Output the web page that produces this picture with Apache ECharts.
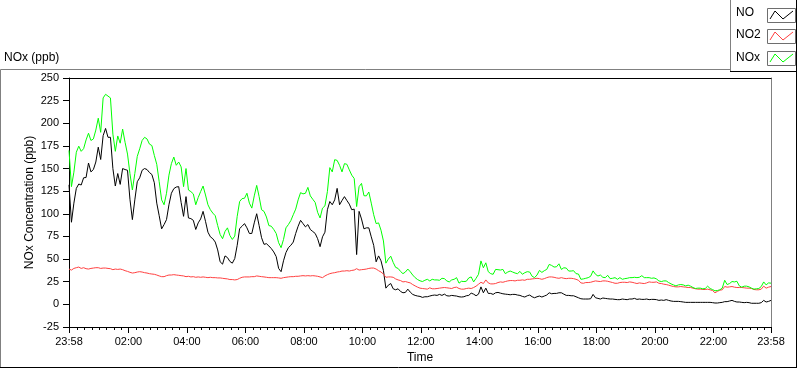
<!DOCTYPE html>
<html><head><meta charset="utf-8">
<script src="https://cdn.jsdelivr.net/npm/echarts@6/dist/echarts.min.js"></script>
<style>html,body{margin:0;padding:0;background:#fff}#c{width:800px;height:369px}</style>
</head><body><div id="c"></div>
<script>
// ---- data ----
const seriesNames = ['NO', 'NO2', 'NOx'];
const seriesColors = ['#000000', '#ff4040', '#00ff00'];
const timeStartMin = -2;   // 23:58 of the previous day (minutes from midnight)
const timeStepMin = 5;     // one sample every 5 minutes

const noValues = [
  132, 90.7, 111.8, 128.1, 132.9, 131.8, 139.8, 140.1, 156.1, 146.3, 148.9, 157.2,
  173.6, 160, 186.3, 194.3, 184.5, 184.5, 150, 130.7, 144.5, 132.5, 150, 148.9,
  148.1, 116.1, 93.6, 115.4, 135.4, 139.8, 148.1, 150, 148.9, 145.6, 143.4, 134.3,
  111.8, 97.9, 83.4, 88.1, 93.6, 110, 122.7, 127.8, 129.6, 130, 112.5, 97.2,
  119, 95.4, 94.7, 92.8, 82.7, 90, 94.3, 102.7, 91.7, 79.7, 74.6, 72.5,
  68.8, 60.1, 47, 44.4, 53.5, 51.7, 47.4, 45.5, 50.6, 65.2, 83.7, 86.3,
  89.2, 84.5, 78.3, 78.3, 90, 100.1, 87, 73.6, 66.3, 67, 64.5, 61.6,
  57.9, 52.8, 39.7, 36.1, 48.1, 57.2, 62.6, 65.2, 68.8, 78.3, 86.3, 92.8,
  89.2, 85.6, 88.1, 82.7, 80.5, 78.3, 72.5, 63.7, 74.6, 79.7, 104.5, 113.6,
  110, 115.4, 128.1, 110, 114.7, 119, 114.7, 110.7, 104.5, 105.2, 55, 102.7,
  94.3, 83.4, 84.5, 84.5, 74.6, 65.2, 47, 53.5, 48.1, 37.2, 17.9, 21.2,
  23, 17.2, 16.1, 17.2, 14.3, 12.8, 13.2, 16.8, 13.5, 11, 9.9, 9.2,
  8.8, 7.7, 8.4, 8.4, 9.2, 9.9, 10.3, 9.9, 11, 9.9, 11.3, 9.5,
  9.2, 9.9, 9.5, 9.2, 8.4, 8.1, 8.4, 9.5, 9.9, 12.4, 11.3, 9.5,
  11.3, 19.3, 12.8, 17.9, 12.1, 12.1, 11, 12.8, 13.2, 12.4, 11.7, 11.3,
  11, 10.6, 11, 11, 10.3, 9.9, 8.8, 8.1, 9.5, 10.3, 8.4, 7.3,
  8.4, 9.2, 8.1, 9.2, 10.3, 12.8, 11.7, 12.1, 12.1, 12.8, 12.8, 11.3,
  9.9, 9.9, 9.5, 9.5, 8.4, 7.3, 6.2, 5.9, 5.9, 5.9, 6.2, 11,
  7.3, 6.6, 5.9, 7, 6.6, 6.2, 5.9, 5.9, 5.5, 5.2, 5.2, 5.9,
  5.5, 5.2, 5.9, 5.9, 6.6, 5.5, 5.9, 5.5, 5.5, 5.9, 5.2, 5.5,
  5.5, 5.2, 4.4, 4.8, 4.4, 5.2, 4.4, 3.7, 3.3, 3.3, 3.3, 3,
  2.6, 2.2, 2.2, 2.2, 2.2, 2.2, 2.2, 2.2, 2.2, 2.2, 2.2, 2.2,
  1.9, 1.5, 1.5, 1.9, 2.2, 3, 3, 3.7, 4.4, 3.3, 2.6, 2.6,
  2.2, 1.9, 2.2, 1.9, 1.2, 1.2, 1.2, 1.2, 1.9, 4.4, 2.6, 3.3,
  4.4
];

const no2Values = [
  39, 37.9, 39.7, 40.5, 41.2, 39.7, 40.5, 39.4, 39, 39.7, 40.1, 40.5,
  40.5, 39.7, 40.1, 40.1, 39.7, 39.4, 38.3, 39, 38.6, 39, 38.3, 37.2,
  36.4, 35.4, 34.6, 35, 35.7, 36.1, 35.7, 35, 34.6, 33.9, 33.5, 33.2,
  32.4, 31.4, 30.6, 30.6, 31.7, 32.4, 32.4, 32.8, 32.4, 32.1, 31.7, 31.4,
  30.6, 31, 30.3, 30.6, 29.9, 30.3, 29.9, 30.3, 29.9, 29.5, 29.9, 29.5,
  29.5, 29.2, 29.2, 28.8, 28.4, 28.1, 27.4, 27.4, 27, 27.4, 28.8, 29.9,
  30.3, 30.3, 30.3, 30.6, 30.6, 31.4, 31, 30.6, 30.3, 29.9, 29.5, 29.5,
  29.5, 29.5, 29.2, 28.8, 29.5, 29.9, 30.3, 30.6, 30.6, 31, 31, 31.4,
  31.7, 31.4, 31.7, 31.4, 31.7, 31.4, 31, 30.3, 29.5, 31.4, 32.8, 33.9,
  34.6, 35, 35.7, 36.1, 36.8, 36.8, 37.2, 36.8, 37.5, 37.9, 39.4, 37.9,
  38.3, 38.6, 39, 39.7, 40.1, 40.1, 39, 37.2, 35.7, 33.5, 29.9, 30.3,
  30.3, 29.9, 28.1, 27, 26.3, 24.8, 25.2, 24.4, 23.7, 21.9, 20.4, 19,
  17.9, 17.5, 17.2, 16.8, 18.3, 17.2, 17.2, 17.5, 17.9, 18.3, 18.6, 18.3,
  17.9, 17.5, 18.6, 19, 17.5, 16.8, 16.8, 17.5, 17.9, 17.5, 18.6, 20.1,
  22.2, 24.4, 23, 27, 23.7, 22.6, 22.6, 23, 24.1, 24.8, 24.4, 25.2,
  25.9, 26.3, 26.3, 25.9, 26.6, 26.6, 27, 26.6, 27.7, 27.7, 28.1, 28.4,
  28.8, 28.4, 27.7, 28.4, 29.5, 30.3, 30.3, 29.9, 29.2, 28.8, 29.5, 28.8,
  28.4, 28.8, 28.8, 28.4, 27.7, 26.6, 23.7, 23.3, 24.1, 24.1, 24.4, 25.2,
  25.9, 25.5, 25.2, 25.9, 25.9, 25.5, 24.8, 24.1, 23.3, 23.3, 24.1, 24.4,
  24.4, 24.1, 24.8, 24.4, 23.7, 23, 23.7, 23.3, 23, 23.7, 24.8, 24.4,
  24.4, 24.8, 23.3, 23, 22.3, 21.9, 21.2, 20.4, 19.7, 19.3, 19.3, 19.7,
  19.3, 19, 18.6, 18.6, 17.9, 17.2, 16.8, 16.8, 16.4, 16.4, 16.8, 16.1,
  15.3, 12.8, 14.3, 15.7, 16.1, 19.7, 19, 19.3, 19.7, 19, 18.6, 18.6,
  18.6, 18.3, 17.9, 17.9, 17.5, 16.4, 16.1, 16.1, 16.8, 20.1, 17.9, 19,
  19.7
];

const noxValues = [
  170, 130, 146, 168, 174.7, 169, 172, 181.6, 189, 181, 182.7, 192.5,
  205.6, 190, 228, 232, 230, 228, 188, 169, 186, 178, 193.6, 179,
  166, 144.5, 126.3, 144.5, 163.4, 171.8, 181, 184.5, 182.7, 177, 175.4, 164.5,
  154.7, 135.4, 115.4, 110, 122.7, 142.7, 155.4, 162.7, 153.6, 157.2, 151.8, 130,
  150, 126.3, 124.5, 122, 110, 118, 124.5, 130.7, 120.8, 110, 104.5, 100.8,
  97.9, 87, 77.2, 72.5, 80.5, 84.5, 76.1, 71.7, 75.4, 97.2, 113.6, 116.8,
  117.2, 122.7, 111.8, 106.3, 119.8, 131.4, 119, 104.5, 102.7, 96.5, 87, 86.3,
  82.7, 78.3, 68.1, 62.6, 71.7, 84.5, 88.1, 92.5, 99, 105.2, 115.4, 123.4,
  122, 122.7, 129.2, 119.8, 116.1, 112.5, 101.6, 95.4, 106.3, 108.8, 124.5, 151,
  146.3, 159.8, 159, 153.6, 146.3, 155.4, 154.7, 148.5, 142.7, 139, 108, 130,
  133.6, 120, 119.8, 124.1, 111.8, 99, 89.2, 90, 81.9, 70, 45.5, 50,
  53.2, 46.3, 40.8, 39.7, 36.4, 33.9, 35.7, 39, 36, 32.4, 29.5, 27.4,
  26, 25.2, 26.6, 27.7, 25.9, 27.7, 27, 27, 26.6, 28.8, 28.4, 25.9,
  24.8, 27, 27.7, 29.5, 23.4, 25.5, 25.2, 25.5, 29.2, 30.3, 24.8, 28.8,
  33.2, 48, 40.4, 45.9, 36.1, 33.9, 33.2, 38.6, 38.3, 37.9, 38.6, 33.9,
  35.7, 36.8, 35.7, 34.6, 33.9, 36.4, 33.2, 35, 36.1, 35.7, 31, 29.5,
  32.4, 37.5, 35.3, 37.2, 38.6, 44.1, 43, 41.2, 41.5, 44.8, 38.6, 40.4,
  40.1, 36.8, 36.8, 37.2, 33.9, 33.5, 27.7, 28.1, 28.8, 29.5, 31, 37,
  33.2, 31.3, 32.4, 29.9, 29.5, 32.1, 28.4, 28.8, 29.5, 27.7, 29.5, 27.7,
  28.4, 28.8, 29.5, 29.5, 29.9, 29.5, 29.9, 31.7, 29.5, 29.5, 29.5, 28.8,
  29.2, 28.1, 25.9, 25.2, 25.9, 25.9, 24.1, 22.6, 21.5, 20.4, 21.5, 21.9,
  21.5, 20.4, 21.2, 20.1, 18.6, 17.5, 17.9, 17.9, 17.2, 17.5, 20.1, 17.5,
  16.4, 15, 15.3, 16.1, 17.9, 26.6, 21.9, 23, 25.2, 24.8, 25.5, 20.4,
  19, 20.1, 20.1, 19.3, 17.9, 16.8, 17.2, 17.5, 19.7, 24.8, 21.5, 23.7,
  23.4
];

// axis ticks
const yMin = -25, yMax = 250, yStep = 25;
const xMin = -2, xMax = 1438;
const xTickMinutes = [-2, 120, 240, 360, 480, 600, 720, 840, 960, 1080, 1200, 1320, 1438];
const xTickLabels = ['23:58', '02:00', '04:00', '06:00', '08:00', '10:00', '12:00', '14:00', '16:00', '18:00', '20:00', '22:00', '23:58'];
const xMinorStep = 15;

const yAxisTitle = 'NOx Concentration (ppb)';
const xAxisTitle = 'Time';
const panelTitle = 'NOx (ppb)';

// ---- chart ----
const FONT = "'Liberation Sans', Arial, sans-serif";
const xMinorTickMinutes = [];
for (let m = xMinorStep; m < xMax; m += xMinorStep) if (m % 120 !== 0) xMinorTickMinutes.push(m);

const toPairs = vals => vals.map((v, i) => [timeStartMin + i * timeStepMin, v]);
const allValues = [noValues, no2Values, noxValues];

const chart = echarts.init(document.getElementById('c'), null, { renderer: 'canvas' });

const legendGraphics = [];
seriesNames.forEach((name, i) => {
  const top = [8, 29, 51][i];
  legendGraphics.push({
    type: 'text', left: 736, top: [7, 29, 52][i], silent: true,
    style: { text: name, fill: '#000', font: '12px ' + FONT }
  });
  legendGraphics.push({
    type: 'rect', shape: { x: 767.5, y: top + 0.5, width: 28, height: 14 }, silent: true,
    style: { fill: '#fff', stroke: '#6e6e6e', lineWidth: 1 }
  });
  legendGraphics.push({
    type: 'polyline', silent: true,
    shape: { points: [[770, top + 11], [775, top + 3], [783, top + 11], [793, top + 3]] },
    style: { stroke: seriesColors[i], lineWidth: 1, fill: null }
  });
});

const option = {
  animation: false,
  textStyle: { fontFamily: FONT },
  grid: { left: 69, right: 29, top: 78, bottom: 39, containLabel: false },
  xAxis: [
    {
      type: 'value', min: xMin, max: xMax, position: 'bottom',
      name: xAxisTitle, nameLocation: 'middle', nameGap: 25, nameMoveOverlap: false,
      nameTextStyle: { color: '#000', fontSize: 12, fontFamily: FONT },
      axisLine: { show: true, onZero: false, lineStyle: { color: '#000', width: 1 } },
      axisTick: { show: true, length: 6, customValues: xTickMinutes, lineStyle: { color: '#000' } },
      axisLabel: {
        customValues: xTickMinutes, color: '#000', fontSize: 11, margin: 9, fontFamily: FONT,
        formatter: v => xTickLabels[xTickMinutes.indexOf(v)]
      },
      splitLine: { show: false }
    },
    {
      type: 'value', min: xMin, max: xMax, position: 'bottom',
      axisLine: { show: false, onZero: false },
      axisTick: { show: true, length: 3, customValues: xMinorTickMinutes, lineStyle: { color: '#000' } },
      axisLabel: { show: false }, splitLine: { show: false }
    },
    {
      type: 'value', min: xMin, max: xMax, position: 'top',
      axisLine: { show: true, onZero: false, lineStyle: { color: '#000' } },
      axisTick: { show: false }, axisLabel: { show: false }, splitLine: { show: false }
    }
  ],
  yAxis: [
    {
      type: 'value', min: yMin, max: yMax, interval: yStep,
      name: yAxisTitle, nameLocation: 'middle', nameGap: 33, nameRotate: 90, nameMoveOverlap: false,
      nameTextStyle: { color: '#000', fontSize: 12, fontFamily: FONT },
      axisLine: { show: true, onZero: false, lineStyle: { color: '#000' } },
      axisTick: { show: true, length: 6, lineStyle: { color: '#000' } },
      axisLabel: { color: '#000', fontSize: 11, margin: 10, fontFamily: FONT },
      splitLine: { show: false }
    },
    {
      type: 'value', min: yMin, max: yMax, interval: yStep, position: 'right',
      axisLine: { show: true, onZero: false, lineStyle: { color: '#808080' } },
      axisTick: { show: false }, axisLabel: { show: false }, splitLine: { show: false }
    }
  ],
  series: seriesNames.map((name, i) => ({
    name, type: 'line', xAxisIndex: 0, yAxisIndex: 0,
    data: toPairs(allValues[i]),
    showSymbol: false, symbol: 'none', smooth: false, sampling: null,
    lineStyle: { color: seriesColors[i], width: 1 },
    itemStyle: { color: seriesColors[i] },
    emphasis: { disabled: true }, silent: true
  })),
  graphic: [
    { type: 'line', silent: true, shape: { x1: 0.5, y1: 69.5, x2: 730, y2: 69.5 }, style: { stroke: '#808080', lineWidth: 1 } },
    { type: 'line', silent: true, shape: { x1: 0.5, y1: 69.5, x2: 0.5, y2: 368 }, style: { stroke: '#808080', lineWidth: 1 } },
    { type: 'line', silent: true, shape: { x1: 0, y1: 367.5, x2: 797, y2: 367.5 }, style: { stroke: '#000', lineWidth: 1 } },
    { type: 'line', silent: true, shape: { x1: 796.5, y1: 0, x2: 796.5, y2: 368 }, style: { stroke: '#000', lineWidth: 1 } },
    { type: 'line', silent: true, shape: { x1: 730.5, y1: 0, x2: 730.5, y2: 72 }, style: { stroke: '#808080', lineWidth: 1 } },
    { type: 'line', silent: true, shape: { x1: 730, y1: 71.5, x2: 797, y2: 71.5 }, style: { stroke: '#000', lineWidth: 1 } },
    {
      type: 'text', left: 4, top: 52, silent: true,
      style: { text: panelTitle, fill: '#000', font: '12px ' + FONT }
    }
  ].concat(legendGraphics)
};
chart.setOption(option);
</script>
</body></html>
